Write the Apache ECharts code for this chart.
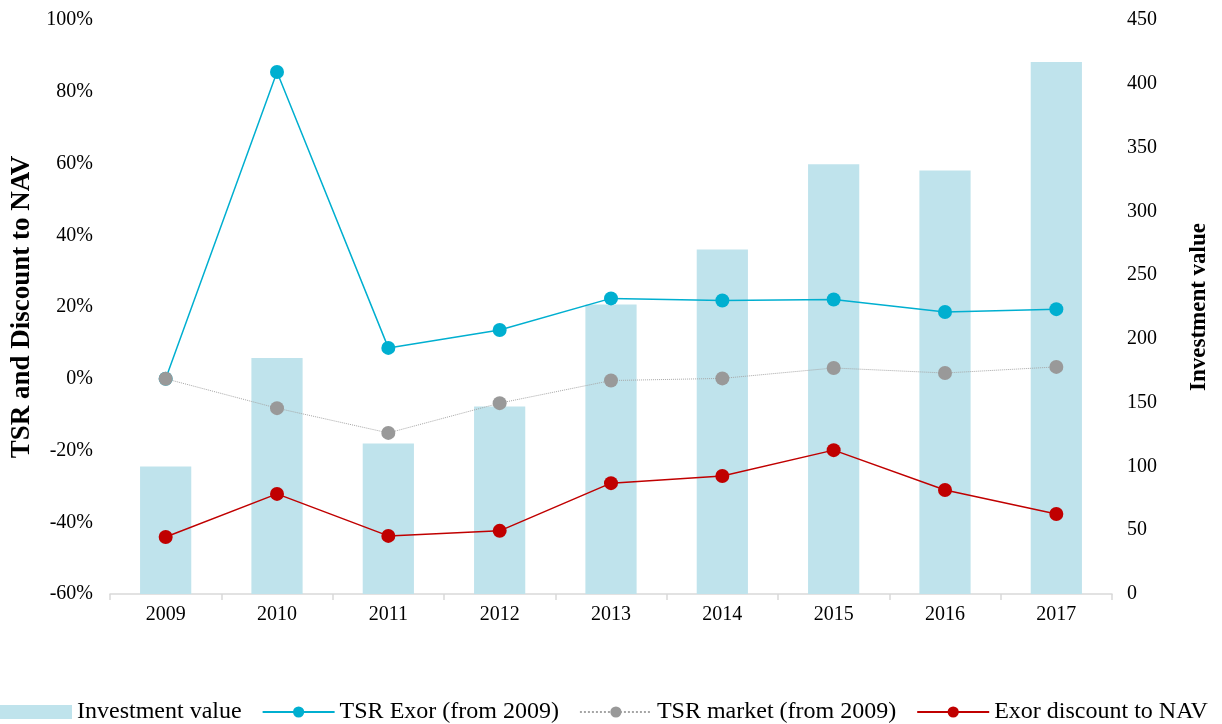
<!DOCTYPE html>
<html>
<head>
<meta charset="utf-8">
<script src="https://cdn.jsdelivr.net/npm/echarts@6/dist/echarts.min.js"></script>
<style>html,body{margin:0;padding:0;background:#fff}#c{width:1222px;height:724px}</style>
</head>
<body>
<div id="c"></div>
<script>
var years = ['2009','2010','2011','2012','2013','2014','2015','2016','2017'];
var investmentValue = [100, 185, 118, 147, 227, 270, 337, 332, 417];
var tsrExor = [0, 85.5, 8.6, 13.6, 22.4, 21.8, 22.1, 18.6, 19.4];
var tsrMarket = [0, -8.2, -15.1, -6.8, -0.5, 0.1, 3.0, 1.6, 3.3];
var exorDiscount = [-44.1, -32.1, -43.8, -42.4, -29.1, -27.1, -19.9, -31.0, -37.7];

var font = 'Liberation Serif';
var chart = echarts.init(document.getElementById('c'));
chart.setOption({
  animation: false,
  textStyle: {fontFamily: font},
  grid: {left: 110, right: 110, top: 20, bottom: 130, containLabel: false, outerBoundsMode: 'none'},
  legend: {
    bottom: 0, left: 0, width: 1222, padding: [0, 0, 0, 0],
    itemWidth: 72, itemHeight: 14, itemGap: 20,
    textStyle: {fontFamily: font, fontSize: 24, color: '#000'},
    data: [
      {name: 'Investment value', icon: 'rect'},
      'TSR Exor (from 2009)', 'TSR market (from 2009)', 'Exor discount to NAV'
    ]
  },
  xAxis: {
    type: 'category', data: years,
    axisLine: {onZero: false, lineStyle: {color: '#d9d9d9', width: 1.5}},
    axisTick: {show: true, length: 6, lineStyle: {color: '#d9d9d9', width: 1.5}},
    axisLabel: {fontFamily: font, fontSize: 20, color: '#000', margin: 11}
  },
  yAxis: [
    {
      type: 'value', min: -60, max: 100, interval: 20,
      name: 'TSR and Discount to NAV', nameLocation: 'middle', nameRotate: 90, nameGap: 73,
      nameTextStyle: {fontFamily: font, fontSize: 27, fontWeight: 'bold', color: '#000'},
      axisLabel: {formatter: '{value}%', fontFamily: font, fontSize: 20, color: '#000', margin: 17},
      axisLine: {show: false}, axisTick: {show: false}, splitLine: {show: false}
    },
    {
      type: 'value', min: 0, max: 450, interval: 50, position: 'right',
      name: 'Investment value', nameLocation: 'middle', nameRotate: 90, nameGap: 76,
      nameTextStyle: {fontFamily: font, fontSize: 23, fontWeight: 'bold', color: '#000'},
      axisLabel: {fontFamily: font, fontSize: 20, color: '#000', margin: 15},
      axisLine: {show: false}, axisTick: {show: false}, splitLine: {show: false}
    }
  ],
  series: [
    {
      name: 'Investment value', type: 'bar', yAxisIndex: 1, data: investmentValue,
      barWidth: '46%', itemStyle: {color: '#bfe3ec'}
    },
    {
      name: 'TSR Exor (from 2009)', type: 'line', yAxisIndex: 0, data: tsrExor,
      symbol: 'circle', symbolSize: 14,
      lineStyle: {color: '#00afd0', width: 1.5}, itemStyle: {color: '#00afd0'}
    },
    {
      name: 'TSR market (from 2009)', type: 'line', yAxisIndex: 0, data: tsrMarket,
      symbol: 'circle', symbolSize: 14,
      lineStyle: {color: '#a6a6a6', width: 1, type: 'dotted'}, itemStyle: {color: '#999999'}
    },
    {
      name: 'Exor discount to NAV', type: 'line', yAxisIndex: 0, data: exorDiscount,
      symbol: 'circle', symbolSize: 14,
      lineStyle: {color: '#c00000', width: 1.5}, itemStyle: {color: '#c00000'}
    }
  ]
});
</script>
</body>
</html>
